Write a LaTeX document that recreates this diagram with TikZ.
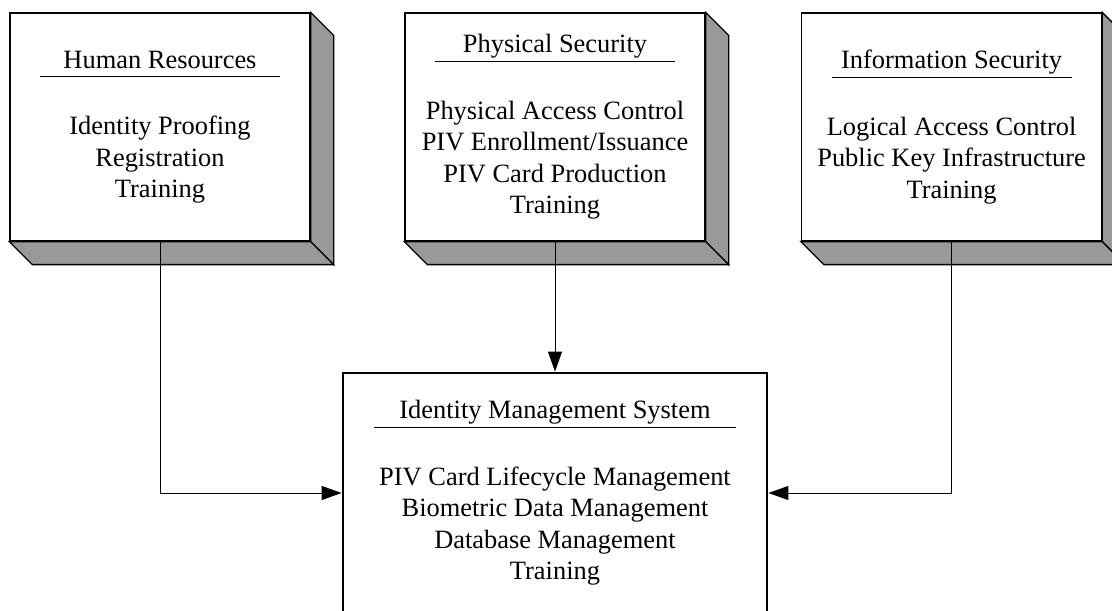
\documentclass[tikz,border=0pt]{standalone}
\usepackage{fontspec}
\setmainfont{Liberation Serif}
\usetikzlibrary{arrows.meta,positioning}
\definecolor{facegray}{RGB}{153,153,153}
\tikzset{
	box/.style={draw,rectangle,fill=white,line width=0.9pt,minimum width=7.5cm,minimum height=5.7cm,align=center,font=\fontsize{18.8}{22.3}\selectfont},
	sys/.style={box,line width=2pt,minimum width=10.6cm,minimum height=6cm},
	face/.style={draw,fill=facegray,line width=0.9pt},
	arr/.style={-{Triangle[length=0.5cm,width=0.35cm]},line width=0.6pt}
}
\begin{document}
\begin{tikzpicture}
			\useasboundingbox (0,0) rectangle (27.8,15.275);
			\clip (0,0) rectangle (27.8,15.275);
			\node[box] (hr) at (4,12.1) {Human Resources\\[-0.56cm]\rule{6cm}{0.8pt}\\[0.66cm]Identity Proofing\\Registration\\Training};
			\node[box] (phys) at (13.875,12.1) {Physical Security\\[-0.56cm]\rule{6cm}{0.8pt}\\[0.66cm]Physical Access Control\\PIV Enrollment/Issuance\\PIV Card Production\\Training};
			\node[box] (info) at (23.79,12.1) {Information Security\\[-0.56cm]\rule{6cm}{0.8pt}\\[0.66cm]Logical Access Control\\Public Key Infrastructure\\Training};
			\node[sys] (ims) at (13.875,2.95) {Identity Management System\\[-0.56cm]\rule{9.05cm}{0.8pt}\\[0.66cm]PIV Card Lifecycle Management\\Biometric Data Management\\Database Management\\Training};
			
			\foreach \b in {hr,phys,info}{
				\draw[face] (\b.north east) -- ++(0.575,-0.575) -- ([shift={(0.575,-0.575)}]\b.south east) -- (\b.south east) -- cycle;
				\draw[face] (\b.south west) -- (\b.south east) -- ++(0.575,-0.575) -- ([shift={(0.575,-0.575)}]\b.south west) -- cycle;
			}
			
			\draw[arr] (hr.south) |- (ims.west);
			\draw[arr] (phys.south) -- (ims.north);
			\draw[arr] (info.south) |- (ims.east);
		\end{tikzpicture}
\end{document}
